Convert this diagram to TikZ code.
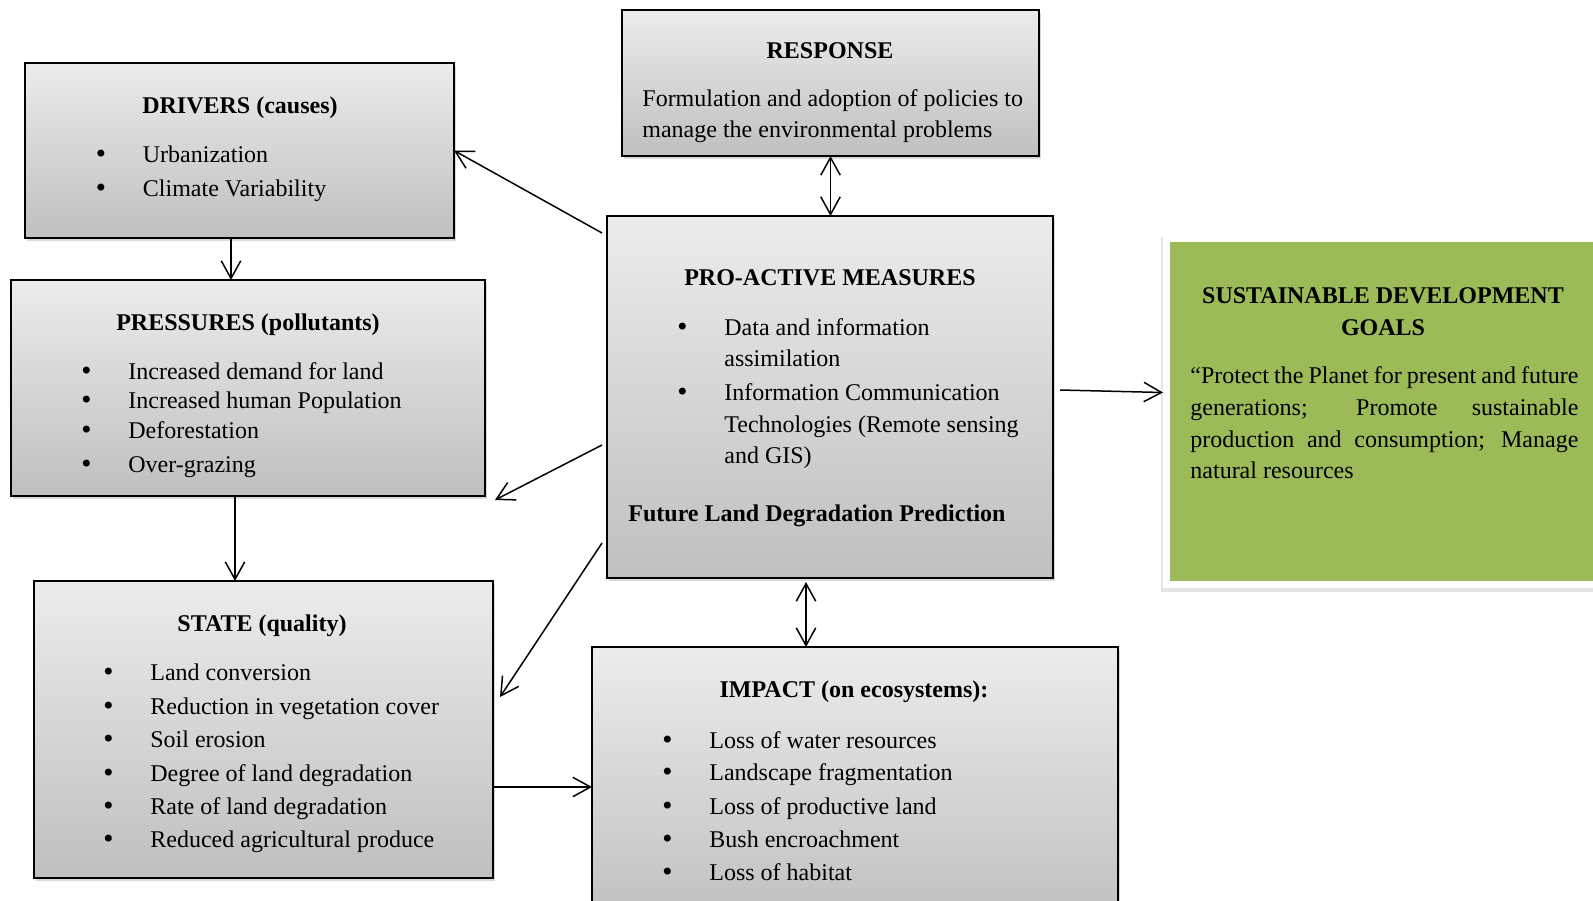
\documentclass[tikz,border=0pt]{standalone}
\usepackage{fontspec}
\setmainfont{Liberation Serif}
\newfontfamily\bulletfont{DejaVu Sans}
\usepackage{tikz}
\usetikzlibrary{calc,arrows.meta,shadows}
\definecolor{sdggreen}{HTML}{9BBB59}
\newcommand{\itm}[1]{\makebox[23.5pt][l]{\hspace{-1pt}{\bulletfont •}}#1}
\tikzset{
  box/.style={draw=black,line width=0.85pt,top color=gray!15,bottom color=gray!50,anchor=north west,inner sep=0pt,outer sep=0pt,
    drop shadow={shadow xshift=1pt,shadow yshift=-1.5pt,opacity=0.3}},
  sdgbox/.style={draw=white,line width=3.5pt,fill=sdggreen,anchor=north west,inner sep=0pt,outer sep=0pt,
    drop shadow={shadow xshift=0pt,shadow yshift=-1.5pt,shadow scale=1.025,opacity=0.2}},
  txt/.style={font=\fontsize{12}{14}\selectfont,inner sep=0pt,anchor=base west},
  ttl/.style={font=\fontsize{12}{14}\selectfont\bfseries,inner sep=0pt,anchor=base},
  ar/.style={-{Straight Barb[length=8.8pt,width=9.7pt]},line width=0.75pt},
  dar/.style={{Straight Barb[length=8.8pt,width=9.7pt]}-{Straight Barb[length=8.8pt,width=9.7pt]},line width=0.75pt}
}
\begin{document}
\begin{tikzpicture}[x=0.5pt,y=-0.5pt]
\useasboundingbox (0,0) rectangle (1593,900);
% boxes
\node[box,minimum width=214.5pt,minimum height=87.5pt] (drv) at (25,63) {};
\node[box,minimum width=208.5pt,minimum height=73pt] (resp) at (622,10) {};
\node[box,minimum width=223pt,minimum height=181pt] (pro) at (607,216) {};
\node[box,minimum width=237pt,minimum height=108pt] (prs) at (11,280) {};
\node[box,minimum width=229.5pt,minimum height=148.5pt] (st) at (34,581) {};
\node[box,minimum width=263pt,minimum height=140pt] (imp) at (592,647) {};
\node[sdgbox,minimum width=230pt,minimum height=173pt] (sdg) at (1166.5,238.5) {};
% drivers
\node[ttl] (drvT) at (240,113) {DRIVERS (causes)};
\node[txt] (drv1) at (95.5,162) {\itm{Urbanization}};
\node[txt] (drv2) at (95.5,196) {\itm{Climate Variability}};
% response
\node[ttl] (respT) at (830,58.5) {RESPONSE};
\node[txt] (resp1) at (642,106.5) {Formulation and adoption of policies to};
\node[txt] (resp2) at (642,137.5) {manage the environmental problems};
% pro-active measures
\node[ttl] (proT) at (830,285) {PRO-ACTIVE MEASURES};
\node[txt] (pro1) at (677,335) {\itm{Data and information}};
\node[txt] (pro2) at (724,366) {assimilation};
\node[txt] (pro3) at (677,400) {\itm{Information Communication}};
\node[txt] (pro4) at (724,432) {Technologies (Remote sensing};
\node[txt] (pro5) at (724,463) {and GIS)};
\node[txt,font=\fontsize{12}{14}\selectfont\bfseries] (pro6) at (628,521) {Future Land Degradation Prediction};
% pressures
\node[ttl] (prsT) at (248,330) {PRESSURES (pollutants)};
\node[txt] (prs1) at (81,379) {\itm{Increased demand for land}};
\node[txt] (prs2) at (81,408) {\itm{Increased human Population}};
\node[txt] (prs3) at (81,438) {\itm{Deforestation}};
\node[txt] (prs4) at (81,472) {\itm{Over-grazing}};
% state
\node[ttl] (stT) at (262,631) {STATE (quality)};
\node[txt] (st1) at (103,680) {\itm{Land conversion}};
\node[txt] (st2) at (103,714) {\itm{Reduction in vegetation cover}};
\node[txt] (st3) at (103,747) {\itm{Soil erosion}};
\node[txt] (st4) at (103,781) {\itm{Degree of land degradation}};
\node[txt] (st5) at (103,814) {\itm{Rate of land degradation}};
\node[txt] (st6) at (103,847) {\itm{Reduced agricultural produce}};
% impact
\node[ttl] (impT) at (854,697) {IMPACT (on ecosystems):};
\node[txt] (imp1) at (662,748) {\itm{Loss of water resources}};
\node[txt] (imp2) at (662,780) {\itm{Landscape fragmentation}};
\node[txt] (imp3) at (662,814) {\itm{Loss of productive land}};
\node[txt] (imp4) at (662,847) {\itm{Bush encroachment}};
\node[txt] (imp5) at (662,880) {\itm{Loss of habitat}};
% sustainable development goals
\node[ttl] (sdgT1) at (1383,303) {SUSTAINABLE DEVELOPMENT};
\node[ttl] (sdgT2) at (1383,335) {GOALS};
\node[txt] (sdg1) at (1190,383) {\makebox[194pt][s]{“Protect the Planet for present and future}};
\node[txt] (sdg2) at (1190,415) {\makebox[194pt][s]{generations; Promote sustainable}};
\node[txt] (sdg3) at (1190,447) {\makebox[194pt][s]{production and consumption; Manage}};
\node[txt] (sdg4) at (1190,478) {natural resources};
% connectors
\coordinate (d1) at ($(drv.south)+(-8.5,0)$);
\coordinate (p1) at ($(prs.south)+(-13,0)$);
\coordinate (s1) at ($(st.north east)+(0,206)$);
\coordinate (m1) at ($(pro.south)+(-24,4)$);
\draw[ar] ($(pro.north west)+(-5,17)$) -- (drv.east);
\draw[ar] (d1) -- (d1 |- prs.north);
\draw[ar] ($(pro.north west)+(-5,229)$) -- ($(prs.south east)+(10,4)$);
\draw[ar] (p1) -- (p1 |- st.north);
\draw[ar] ($(pro.north west)+(-5,327)$) -- ($(st.north east)+(7,116)$);
\draw[ar] (s1) -- (s1 -| imp.west);
\draw[dar] (resp.south) -- (resp.south |- pro.north);
\draw[dar] (m1) -- (m1 |- imp.north);
\draw[ar] ($(pro.east)+(7,-7)$) -- ($(sdg.west)+(-3.5,-19)$);
\end{tikzpicture}
\end{document}
